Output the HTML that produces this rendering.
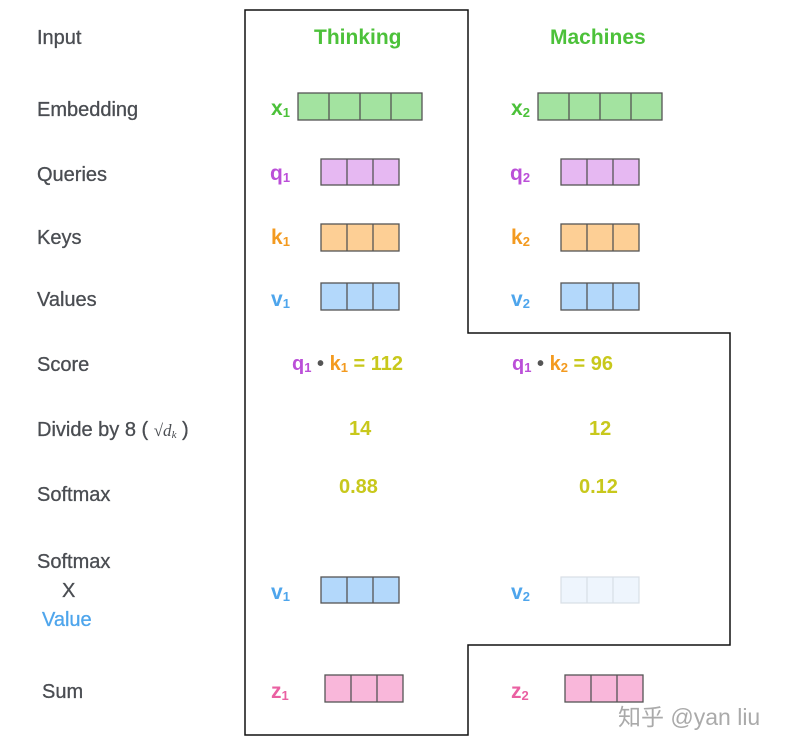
<!DOCTYPE html>
<html><head><meta charset="utf-8"><style>
body{margin:0;background:#fff;width:786px;height:747px;position:relative;overflow:hidden;font-family:"Liberation Sans",sans-serif}
.t{position:absolute;white-space:nowrap}
.l{left:37px;font-size:20px;color:#4a4d52;-webkit-text-stroke:0.3px #4a4d52}
.b{font-weight:bold}
.g{color:#4cc13a}.p{color:#bb4fd8}.o{color:#f39a1f}.bl{color:#4ea5ec}.y{color:#c8c81c}.pk{color:#ea60a2}
sub{font-size:13px;vertical-align:-2px}
</style></head><body>
<svg width="786" height="747" style="position:absolute;left:0;top:0">
<polygon points="245,10 468,10 468,333 730,333 730,645 468,645 468,735 245,735" fill="none" stroke="#111" stroke-width="1.5"/>
<g stroke="#555" stroke-width="1.3">
<g fill="#a3e3a0"><rect x="298" y="93" width="124" height="27"/><rect x="538" y="93" width="124" height="27"/></g>
<path d="M329 93v27M360 93v27M391 93v27M569 93v27M600 93v27M631 93v27"/>
<g fill="#e6b8f2"><rect x="321" y="159" width="78" height="26"/><rect x="561" y="159" width="78" height="26"/></g>
<g fill="#fdcf95"><rect x="321" y="224" width="78" height="27"/><rect x="561" y="224" width="78" height="27"/></g>
<g fill="#b3d8fb"><rect x="321" y="283" width="78" height="27"/><rect x="561" y="283" width="78" height="27"/><rect x="321" y="577" width="78" height="26"/></g>
<g fill="#f9b7da"><rect x="325" y="675" width="78" height="27"/><rect x="565" y="675" width="78" height="27"/></g>
<path d="M347 159v26M373 159v26M587 159v26M613 159v26M347 224v27M373 224v27M587 224v27M613 224v27M347 283v27M373 283v27M587 283v27M613 283v27M347 577v26M373 577v26M351 675v27M377 675v27M591 675v27M617 675v27"/>
</g>
<rect x="561" y="577" width="78" height="26" fill="#eef5fd" stroke="#d8dee6" stroke-width="1.2"/>
<path d="M587 577v26M613 577v26" stroke="#d8dee6" stroke-width="1.2"/>
</svg>
<div class="t l" style="top:27px">Input</div>
<div class="t l" style="top:99px">Embedding</div>
<div class="t l" style="top:164px">Queries</div>
<div class="t l" style="top:227px">Keys</div>
<div class="t l" style="top:289px">Values</div>
<div class="t l" style="top:354px">Score</div>
<div class="t l" style="top:419px">Divide by 8 ( <span style="font-family:'Liberation Serif',serif;font-size:17px;font-style:italic;-webkit-text-stroke:0">√d<sub style="font-size:11px">k</sub></span> )</div>
<div class="t l" style="top:484px">Softmax</div>
<div class="t l" style="top:551px">Softmax</div>
<div class="t l" style="top:580px;left:62px">X</div>
<div class="t l bl" style="top:609px;left:42px;-webkit-text-stroke:0.3px #4ea5ec;color:#4ea5ec">Value</div>
<div class="t l" style="top:681px;left:42px">Sum</div>
<div class="t b g" style="top:26px;left:314px;font-size:21px">Thinking</div>
<div class="t b g" style="top:26px;left:550px;font-size:21px">Machines</div>
<div class="t b g" style="top:97px;left:271px;font-size:21px">x<sub>1</sub></div>
<div class="t b g" style="top:97px;left:511px;font-size:21px">x<sub>2</sub></div>
<div class="t b p" style="top:162px;left:270px;font-size:21px">q<sub>1</sub></div>
<div class="t b p" style="top:162px;left:510px;font-size:21px">q<sub>2</sub></div>
<div class="t b o" style="top:226px;left:271px;font-size:21px">k<sub>1</sub></div>
<div class="t b o" style="top:226px;left:511px;font-size:21px">k<sub>2</sub></div>
<div class="t b bl" style="top:288px;left:271px;font-size:21px">v<sub>1</sub></div>
<div class="t b bl" style="top:288px;left:511px;font-size:21px">v<sub>2</sub></div>
<div class="t b" style="top:353px;left:292px;font-size:20px"><span class="p">q<sub>1</sub></span> <span style="color:#555">•</span> <span class="o">k<sub>1</sub></span> <span class="y">= 112</span></div>
<div class="t b" style="top:353px;left:512px;font-size:20px"><span class="p">q<sub>1</sub></span> <span style="color:#555">•</span> <span class="o">k<sub>2</sub></span> <span class="y"> = 96</span></div>
<div class="t b y" style="top:418px;left:349px;font-size:20px">14</div>
<div class="t b y" style="top:418px;left:589px;font-size:20px">12</div>
<div class="t b y" style="top:476px;left:339px;font-size:20px">0.88</div>
<div class="t b y" style="top:476px;left:579px;font-size:20px">0.12</div>
<div class="t b bl" style="top:581px;left:271px;font-size:21px">v<sub>1</sub></div>
<div class="t b bl" style="top:581px;left:511px;font-size:21px">v<sub>2</sub></div>
<div class="t b pk" style="top:680px;left:271px;font-size:21px">z<sub>1</sub></div>
<div class="t b pk" style="top:680px;left:511px;font-size:21px">z<sub>2</sub></div>
<div class="t" style="top:698px;left:618px;font-size:23px;color:#aaa;font-family:'Liberation Sans','Noto Sans CJK SC',sans-serif">知乎 @yan liu</div>
</body></html>
